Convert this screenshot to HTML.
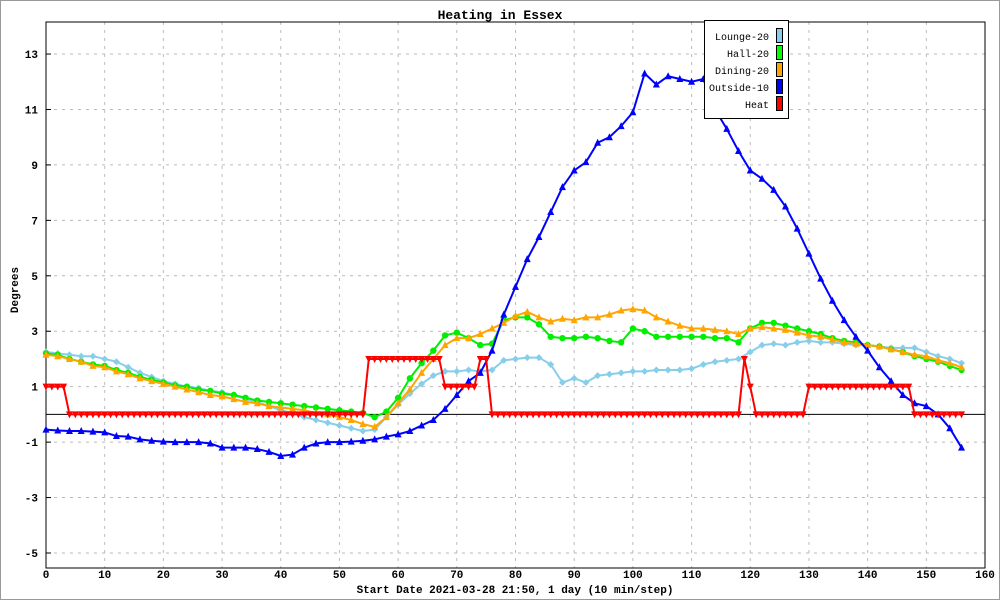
<!DOCTYPE html>
<html><head><meta charset="utf-8"><style>
body{margin:0;background:#fff}
svg{display:block;font-family:"Liberation Mono","DejaVu Sans Mono",monospace}
</style></head><body>
<svg id="c" width="1000" height="600">
<rect x="0.5" y="0.5" width="999" height="599" fill="#fff" stroke="#999"/>
<text x="500" y="19" text-anchor="middle" font-size="13" font-weight="bold">Heating in Essex</text>
<g id="grid"></g>
<g id="axes"></g>
<g id="series"></g>
<text x="18" y="290" text-anchor="middle" font-size="11" font-weight="bold" transform="rotate(-90 18 290)">Degrees</text>
<text x="515" y="593" text-anchor="middle" font-size="11" font-weight="bold">Start Date 2021-03-28 21:50, 1 day (10 min/step)</text>
<g id="legend"></g>
</svg>
<script>
const steps=[0,2,4,6,8,10,12,14,16,18,20,22,24,26,28,30,32,34,36,38,40,42,44,46,48,50,52,54,56,58,60,62,64,66,68,70,72,74,76,78,80,82,84,86,88,90,92,94,96,98,100,102,104,106,108,110,112,114,116,118,120,122,124,126,128,130,132,134,136,138,140,142,144,146,148,150,152,154,156];
const lounge=[2.25,2.2,2.15,2.1,2.1,2.0,1.9,1.7,1.5,1.35,1.2,1.1,1.0,0.95,0.85,0.8,0.7,0.55,0.45,0.3,0.15,0.05,-0.1,-0.2,-0.3,-0.4,-0.5,-0.6,-0.55,-0.1,0.35,0.75,1.1,1.4,1.55,1.55,1.6,1.55,1.6,1.95,2.0,2.05,2.05,1.8,1.15,1.3,1.15,1.4,1.45,1.5,1.55,1.55,1.6,1.6,1.6,1.65,1.8,1.9,1.95,2.0,2.25,2.5,2.55,2.5,2.6,2.65,2.6,2.6,2.55,2.5,2.5,2.45,2.4,2.4,2.4,2.25,2.1,2.0,1.85];
const hall=[2.2,2.15,2.0,1.9,1.8,1.75,1.6,1.5,1.35,1.25,1.15,1.05,1.0,0.9,0.85,0.75,0.7,0.6,0.5,0.45,0.4,0.35,0.3,0.25,0.2,0.15,0.1,0.05,-0.1,0.1,0.6,1.3,1.85,2.3,2.85,2.95,2.75,2.5,2.55,3.4,3.5,3.5,3.25,2.8,2.75,2.75,2.8,2.75,2.65,2.6,3.1,3.0,2.8,2.8,2.8,2.8,2.8,2.75,2.75,2.6,3.1,3.3,3.3,3.2,3.1,3.0,2.9,2.75,2.65,2.6,2.5,2.45,2.35,2.25,2.1,2.0,1.9,1.75,1.6];
const dining=[2.15,2.1,2.0,1.9,1.75,1.7,1.55,1.45,1.3,1.2,1.1,1.0,0.9,0.8,0.7,0.65,0.55,0.45,0.4,0.3,0.25,0.2,0.15,0.05,0.0,-0.1,-0.2,-0.35,-0.45,-0.1,0.4,0.9,1.5,2.0,2.5,2.75,2.75,2.9,3.1,3.3,3.55,3.7,3.5,3.35,3.45,3.4,3.5,3.5,3.6,3.75,3.8,3.75,3.5,3.35,3.2,3.1,3.1,3.05,3.0,2.9,3.1,3.15,3.1,3.05,2.95,2.85,2.8,2.7,2.6,2.55,2.5,2.45,2.35,2.25,2.15,2.1,1.95,1.85,1.7];
const outside=[-0.55,-0.58,-0.6,-0.6,-0.62,-0.65,-0.78,-0.8,-0.9,-0.95,-0.98,-1.0,-1.0,-1.0,-1.05,-1.2,-1.2,-1.2,-1.25,-1.35,-1.5,-1.45,-1.2,-1.05,-1.0,-1.0,-0.98,-0.95,-0.9,-0.8,-0.72,-0.6,-0.4,-0.2,0.2,0.7,1.2,1.5,2.3,3.6,4.6,5.6,6.4,7.3,8.2,8.8,9.1,9.8,10.0,10.4,10.9,12.3,11.9,12.2,12.1,12.0,12.1,11.0,10.3,9.5,8.8,8.5,8.1,7.5,6.7,5.8,4.9,4.1,3.4,2.8,2.3,1.7,1.2,0.7,0.4,0.3,0.0,-0.5,-1.2];
const heat=[1,1,1,1,0,0,0,0,0,0,0,0,0,0,0,0,0,0,0,0,0,0,0,0,0,0,0,0,0,0,0,0,0,0,0,0,0,0,0,0,0,0,0,0,0,0,0,0,0,0,0,0,0,0,0,2,2,2,2,2,2,2,2,2,2,2,2,2,1,1,1,1,1,1,2,2,0,0,0,0,0,0,0,0,0,0,0,0,0,0,0,0,0,0,0,0,0,0,0,0,0,0,0,0,0,0,0,0,0,0,0,0,0,0,0,0,0,0,0,2,1,0,0,0,0,0,0,0,0,0,1,1,1,1,1,1,1,1,1,1,1,1,1,1,1,1,1,1,0,0,0,0,0,0,0,0,0];
const xTicks=[0,10,20,30,40,50,60,70,80,90,100,110,120,130,140,150,160];
const yTicks=[-5,-3,-1,1,3,5,7,9,11,13];
const names=["Lounge-20","Hall-20","Dining-20","Outside-10","Heat"];

const NS="http://www.w3.org/2000/svg";
const L=46,R=985,T=22,B=568;
const xS=v=>L+(v-0)*(R-L)/160;
const yS=v=>414.4-v*27.72;
function mk(tag,attrs,parent){const e=document.createElementNS(NS,tag);for(const k in attrs)e.setAttribute(k,attrs[k]);parent.appendChild(e);return e;}
const grid=document.getElementById('grid'),axes=document.getElementById('axes'),ser=document.getElementById('series'),leg=document.getElementById('legend');
xTicks.forEach(t=>{
  if(t>0&&t<160){const g=mk('line',{x1:xS(t),x2:xS(t),y1:T,y2:B,stroke:'#bbb','stroke-dasharray':'3,5'},grid);
  
  }
  const tx=mk('text',{x:xS(t),y:B+10,'text-anchor':'middle','font-size':'11','font-weight':'bold'},axes);tx.textContent=t;
  
  
});
yTicks.forEach(t=>{
  const g=mk('line',{x1:L,x2:R,y1:yS(t),y2:yS(t),stroke:'#bbb','stroke-dasharray':'3,5'},grid);
  
  
  mk('line',{x1:L,x2:L+5,y1:yS(t),y2:yS(t),stroke:'#000'},axes);
  const tx=mk('text',{x:L-8,y:yS(t)+4,'text-anchor':'end','font-size':'11','font-weight':'bold'},axes);tx.textContent=t;
  
  
});
const fr=mk('rect',{x:L,y:T,width:R-L,height:B-T,fill:'none',stroke:'#000'},axes);


const zl=mk('line',{x1:L,x2:R,y1:yS(0),y2:yS(0),stroke:'#000'},axes);



function marker(shape,x,y,col,g){
  if(shape==='circle')return mk('circle',{cx:x,cy:y,r:3.2,fill:col},g);
  if(shape==='up')return mk('polygon',{points:`${x},${y-4} ${x-3.5},${y+3} ${x+3.5},${y+3}`,fill:col},g);
  if(shape==='down')return mk('polygon',{points:`${x},${y+4} ${x-3.5},${y-3} ${x+3.5},${y-3}`,fill:col},g);
  if(shape==='square')return mk('rect',{x:x-3,y:y-3,width:6,height:6,fill:col},g);
  return mk('polygon',{points:`${x},${y-3.5} ${x+3.5},${y} ${x},${y+3.5} ${x-3.5},${y}`,fill:col},g);
}
function drawSeries(xs,ys,col,shape,name){
  const g=mk('g',{},ser);
  
  
  const pts=ys.map((v,i)=>xS(xs[i])+','+yS(v)).join(' ');
  const pl=mk('polyline',{points:pts,fill:'none',stroke:col,'stroke-width':2},g);
  
  
  ys.forEach((v,i)=>{const m=marker(shape,xS(xs[i]),yS(v),col,g);
    
    });
}
const heatSteps=heat.map((v,i)=>i);
drawSeries(steps,lounge,'#87ceeb','diamond','lounge');
drawSeries(steps,hall,'#00ee00','circle','hall');
drawSeries(steps,dining,'#ffa500','up','dining');
drawSeries(steps,outside,'#0000ff','up','outside');
drawSeries(heatSteps,heat,'#ff0000','down','heat');

const lb=mk('rect',{x:704.5,y:20.5,width:84,height:98,fill:'#fff',stroke:'#000'},leg);


const cols=['#87ceeb','#00ff00','#ffa500','#0000ff','#ff0000'];
names.forEach((n,i)=>{
  const y=36+i*17;
  const t=mk('text',{x:769,y:y+4,'text-anchor':'end','font-size':'10'},leg);t.textContent=n;
  
  
  const r=mk('rect',{x:776.5,y:y-7.5,width:6,height:14,fill:cols[i],stroke:'#000'},leg);
  
  
});
</script>
</body></html>
